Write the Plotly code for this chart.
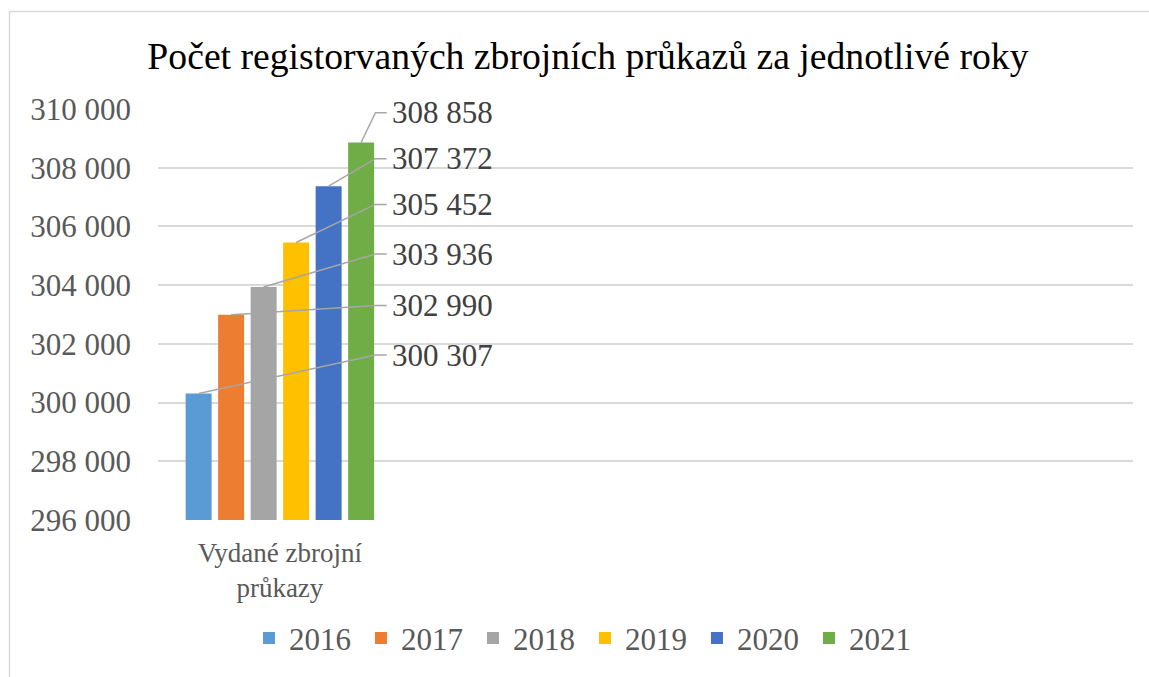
import plotly.graph_objects as go

# ---- data ----
categories = ["Vydané zbrojní průkazy"]
years = ["2016", "2017", "2018", "2019", "2020", "2021"]
values = [300307, 302990, 303936, 305452, 307372, 308858]
colors = ["#5B9BD5", "#ED7D31", "#A5A5A5", "#FFC000", "#4472C4", "#70AD47"]
y_ticks = [296000, 298000, 300000, 302000, 304000, 306000, 308000, 310000]

# label placement (layout only): vertical position of each data label
label_y = [301618, 303310, 305059, 306751, 308308, 309875]

BARGAP = 0.2
BARGROUPGAP = 0.2
SERIF = "Liberation Serif"

fig = go.Figure()
for yr, v, c in zip(years, values, colors):
    fig.add_trace(go.Bar(
        name=yr, x=[0], y=[v], marker=dict(color=c, line=dict(width=0)),
        hoverinfo="skip",
    ))

# leader lines + data labels
n = len(years)
group_w = 1 - BARGAP
slot = group_w / n
elbow_x = 0.392
end_x = 0.438
text_x = 0.452
for i, (v, ly) in enumerate(zip(values, label_y)):
    cx = -group_w / 2 + slot * (i + 0.5)
    fig.add_shape(
        type="path", xref="x", yref="y",
        path=f"M {cx},{v} L {elbow_x},{ly} L {end_x},{ly}",
        line=dict(color="#A6A6A6", width=1.5),
    )
    fig.add_annotation(
        x=text_x, y=ly, xref="x", yref="y", xanchor="left", yanchor="middle",
        text=f"{v:,}".replace(",", " "), showarrow=False,
        font=dict(family=SERIF, size=31, color="#404040"),
    )

# chart frame
fig.add_shape(type="rect", xref="paper", yref="paper",
              x0=-0.1523, y0=-0.5, x1=1.2, y1=1.237,
              line=dict(color="#D9D9D9", width=1.5), layer="below")

fig.update_layout(
    width=1149, height=677,
    margin=dict(l=158, r=16, t=109, b=154),
    paper_bgcolor="white", plot_bgcolor="white",
    barmode="group", bargap=BARGAP, bargroupgap=BARGROUPGAP,
    separators=". ",
    title=dict(
        text="Počet registorvaných zbrojních průkazů za jednotlivé roky",
        x=0.5117, xanchor="center", y=0.918, yanchor="middle",
        xref="container", yref="container",
        font=dict(family=SERIF, size=37.7, color="#000000"),
    ),
    xaxis=dict(
        range=[-0.5, 3.5], tickvals=[0],
        ticktext=["Vydané zbrojní<br>průkazy"],
        showgrid=False, zeroline=False, showline=False,
        tickfont=dict(family=SERIF, size=27, color="#595959"),
        ticks="", ticklabelstandoff=14, fixedrange=True,
    ),
    yaxis=dict(
        range=[296000, 310000], tickvals=y_ticks, tickformat=",d",
        showgrid=True, gridcolor="#D9D9D9", gridwidth=1.5,
        zeroline=False, showline=False, ticks="",
        ticklabelstandoff=26,
        tickfont=dict(family=SERIF, size=31, color="#595959"),
        fixedrange=True,
    ),
    legend=dict(
        orientation="h", x=0.0933, xanchor="left", y=-0.288, yanchor="middle",
        entrywidth=67, entrywidthmode="pixels",
        font=dict(family=SERIF, size=31, color="#595959"),
        traceorder="normal", itemclick=False, itemdoubleclick=False,
    ),
    showlegend=True,
)

fig.write_html("out.html", config={"displayModeBar": False},
               post_script="document.body.style.margin='0px';")
